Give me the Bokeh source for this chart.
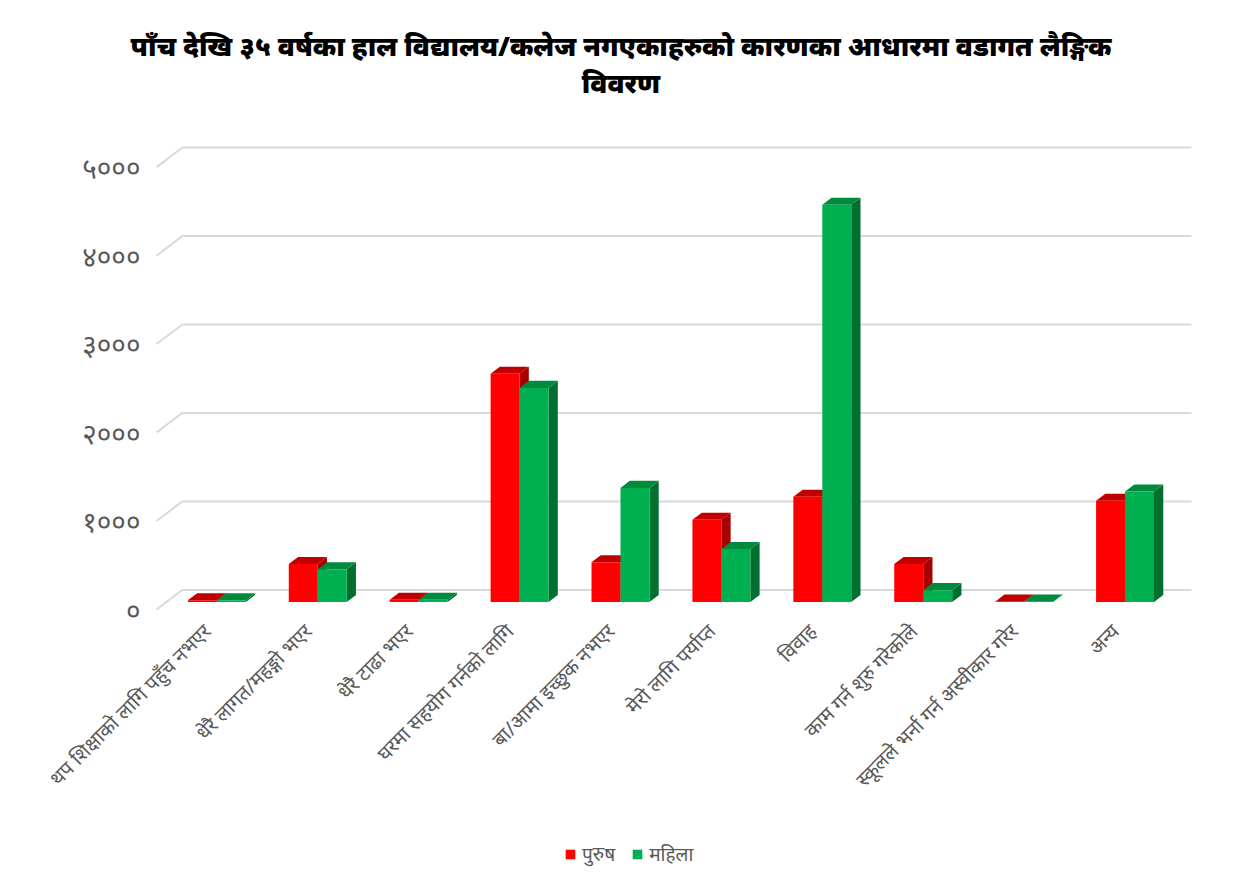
from math import pi
from bokeh.plotting import figure
from bokeh.models import Range1d, Legend, LegendItem, FixedTicker, Div, ColumnDataSource
from bokeh.layouts import column
from bokeh.embed import file_html
from bokeh.resources import INLINE

# ---------------- data ----------------
title_line1 = "पाँच देखि ३५ वर्षका हाल विद्यालय/कलेज नगएकाहरुको कारणका आधारमा वडागत लैङ्गिक"
title_line2 = "विवरण"
categories = [
    "थप शिक्षाको लागि पहुँच नभएर",
    "धेरै लागत/महङ्गो भएर",
    "धेरै टाढा भएर",
    "घरमा सहयोग गर्नको लागि",
    "बा/आमा इच्छुक नभएर",
    "मेरो लागि पर्याप्त",
    "विवाह",
    "काम गर्न शुरु गरेकोले",
    "स्कूलले भर्ना गर्न अस्वीकार गरेर",
    "अन्य",
]
male = [20, 430, 25, 2580, 450, 930, 1190, 430, 5, 1145]
female = [20, 370, 25, 2420, 1290, 600, 4490, 135, 5, 1250]
series_names = ["पुरुष", "महिला"]
y_ticks = [0, 1000, 2000, 3000, 4000, 5000]
y_tick_labels = ["०", "१०००", "२०००", "३०००", "४०००", "५०००"]

# ---------------- styling constants ----------------
DX, DY = 0.255, 222.0      # depth offset of the back wall (data units)
D0, D1 = 0.38, 0.74        # bar front / back depth fractions
BW = 0.287                 # bar width
FONT = "Noto Sans"
GRID = "#d9d9d9"
TXT = "#595959"
colors = {
    "front": ["#FF0000", "#00B050"],
    "top": ["#C00000", "#008A3E"],
    "side": ["#A80000", "#006F2F"],
}

p = figure(frame_width=1050, frame_height=475,
           x_range=Range1d(-0.6, 9.805), y_range=Range1d(-90, 5278),
           output_backend="svg", toolbar_location=None,
           min_border_left=146, min_border_right=36,
           min_border_top=22, min_border_bottom=262)
p.outline_line_color = None
p.xgrid.visible = False
p.ygrid.visible = False

# back wall grid + left diagonals
xs0 = -0.5
xs1 = len(categories) - 0.5
p.segment(x0=[xs0 + DX] * len(y_ticks), x1=[xs1 + DX] * len(y_ticks),
          y0=[v + DY for v in y_ticks], y1=[v + DY for v in y_ticks],
          line_color=GRID, line_width=2)
p.segment(x0=[xs0] * len(y_ticks), x1=[xs0 + DX] * len(y_ticks),
          y0=y_ticks, y1=[v + DY for v in y_ticks],
          line_color=GRID, line_width=2)

for s, vals in enumerate([male, female]):
    xl = [i - BW + s * BW for i in range(len(categories))]
    xr = [x + BW for x in xl]
    side_xs, side_ys, top_xs, top_ys = [], [], [], []
    for a, b, v in zip(xl, xr, vals):
        side_xs.append([b + D0 * DX, b + D1 * DX, b + D1 * DX, b + D0 * DX])
        side_ys.append([D0 * DY, D1 * DY, v + D1 * DY, v + D0 * DY])
        top_xs.append([a + D0 * DX, b + D0 * DX, b + D1 * DX, a + D1 * DX])
        top_ys.append([v + D0 * DY, v + D0 * DY, v + D1 * DY, v + D1 * DY])
    p.patches(xs=side_xs, ys=side_ys, fill_color=colors["side"][s], line_color=None)
    p.patches(xs=top_xs, ys=top_ys, fill_color=colors["top"][s], line_color=None)
    src = ColumnDataSource(dict(left=[a + D0 * DX for a in xl], right=[b + D0 * DX for b in xr],
                                bottom=[D0 * DY] * len(vals), top=[v + D0 * DY for v in vals]))
    p.quad(left="left", right="right", bottom="bottom", top="top", source=src,
           fill_color=colors["front"][s], line_color=None)

# axes
p.yaxis.ticker = FixedTicker(ticks=y_ticks)
p.yaxis.major_label_overrides = {v: l for v, l in zip(y_ticks, y_tick_labels)}
p.yaxis.axis_line_color = None
p.yaxis.major_tick_line_color = None
p.yaxis.minor_tick_line_color = None
p.yaxis.major_label_standoff = 0
p.yaxis.major_label_text_font = FONT
p.yaxis.major_label_text_font_size = "28px"
p.yaxis.major_label_text_color = TXT

p.xaxis.ticker = FixedTicker(ticks=list(range(len(categories))))
p.xaxis.major_label_overrides = {i: c for i, c in enumerate(categories)}
p.xaxis.major_label_orientation = pi / 4
p.xaxis.axis_line_color = None
p.xaxis.major_tick_line_color = None
p.xaxis.minor_tick_line_color = None
p.xaxis.major_label_standoff = 4
p.xaxis.major_label_text_font = FONT
p.xaxis.major_label_text_font_size = "20px"
p.xaxis.major_label_text_color = TXT

# legend strip (separate small figure pulled up under the axis labels)
lg = figure(width=1232, height=40, x_range=Range1d(0, 1), y_range=Range1d(0, 1),
            output_backend="svg", toolbar_location=None, min_border=0,
            margin=(-50, 0, 0, 0))
lg.axis.visible = False
lg.grid.visible = False
lg.outline_line_color = None
lg.background_fill_alpha = 0
lg.border_fill_alpha = 0
# legend proxies: one swatch each, placed outside the visible range
proxy = dict(left=[5], right=[6], bottom=[5], top=[6])
lr = [lg.quad(left="left", right="right", bottom="bottom", top="top",
              source=ColumnDataSource(proxy), fill_color=colors["front"][s], line_color=None)
      for s in range(2)]
legend = Legend(items=[LegendItem(label=series_names[i], renderers=[lr[i]]) for i in range(2)],
                orientation="horizontal", location=(418, 2),
                border_line_color=None, background_fill_alpha=0,
                glyph_width=12, glyph_height=12, spacing=16, label_standoff=6,
                label_text_font=FONT, label_text_font_size="19px", label_text_color=TXT)
lg.add_layout(legend, "center")

title = Div(text=(f'<div style="width:1220px;padding-left:12px;text-align:center;font-family:\'Noto Sans\',sans-serif;'
                  f'font-weight:900;font-size:27px;line-height:37px;color:#000;padding-top:22px;">'
                  f'{title_line1}<br>{title_line2}</div>'),
            width=1232, height=110)

layout = column(title, p, lg, spacing=0)
open("out.html", "w").write(file_html(layout, INLINE))
